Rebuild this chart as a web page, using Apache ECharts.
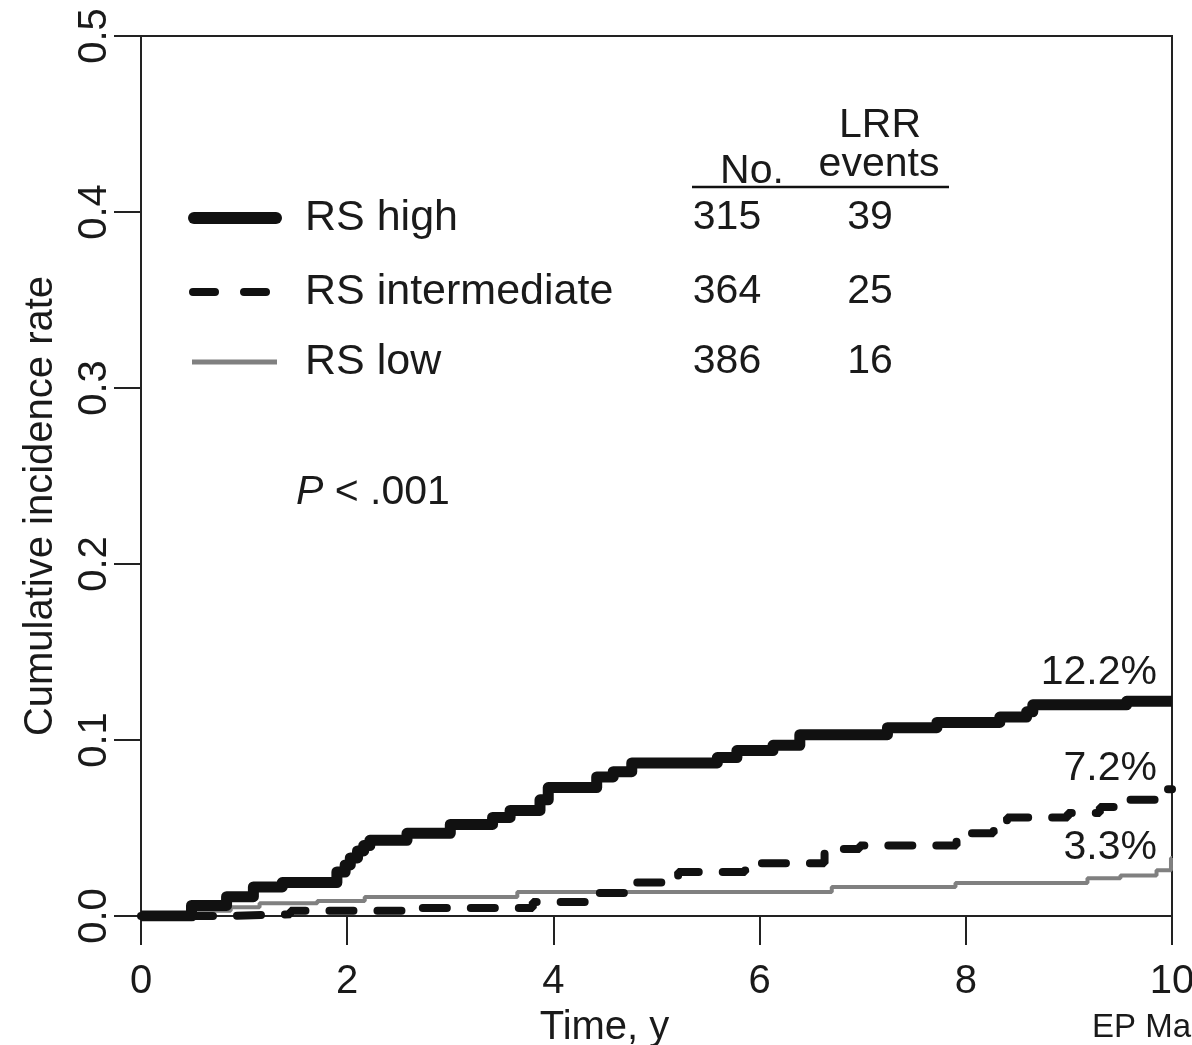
<!DOCTYPE html>
<html>
<head>
<meta charset="utf-8">
<script src="https://cdn.jsdelivr.net/npm/echarts@6/dist/echarts.min.js"></script>
<style>
html,body{margin:0;padding:0;background:#fff;}
#chart{width:1192px;height:1045px;}
</style>
</head>
<body>
<div id="chart"></div>
<script>
// ---- data ----
var xTicks = [0, 2, 4, 6, 8, 10];
var yTicks = [0.0, 0.1, 0.2, 0.3, 0.4, 0.5];

var highTime = [0, 0.49, 0.83, 1.09, 1.37, 1.90, 1.98, 2.03, 2.10, 2.16, 2.22, 2.58, 3.00, 3.41, 3.58, 3.87, 3.95, 4.42, 4.58, 4.76, 5.59, 5.78, 6.13, 6.39, 7.24, 7.72, 8.33, 8.59, 8.65, 9.56, 10];
var highRate = [0, 0.006, 0.011, 0.0165, 0.019, 0.025, 0.029, 0.033, 0.037, 0.040, 0.043, 0.047, 0.052, 0.056, 0.060, 0.066, 0.073, 0.079, 0.082, 0.087, 0.090, 0.094, 0.097, 0.103, 0.107, 0.110, 0.113, 0.116, 0.120, 0.122, 0.122];

var interTime = [0, 0.80, 1.45, 2.68, 3.80, 4.39, 4.77, 5.21, 5.86, 6.63, 6.97, 7.91, 8.27, 8.40, 8.99, 9.30, 9.53, 9.85, 10];
var interRate = [0, 0.001, 0.003, 0.0045, 0.008, 0.013, 0.019, 0.025, 0.030, 0.038, 0.040, 0.047, 0.051, 0.056, 0.0585, 0.062, 0.066, 0.072, 0.072];

var lowTime = [0, 0.55, 0.87, 1.15, 1.71, 2.17, 3.65, 6.70, 7.90, 9.18, 9.50, 9.85, 9.99, 10];
var lowRate = [0, 0.003, 0.005, 0.0073, 0.0085, 0.0108, 0.0136, 0.0165, 0.0187, 0.0215, 0.023, 0.026, 0.033, 0.033];

var groups = ["RS high", "RS intermediate", "RS low"];
var groupN = ["315", "364", "386"];
var groupEvents = ["39", "25", "16"];
var endLabels = ["12.2%", "7.2%", "3.3%"];
var pText = ".001";

function pairs(t, v) { return t.map(function (x, i) { return [x, v[i]]; }); }

var FONT = '"Liberation Sans", Arial, Helvetica, sans-serif';
var FS = 40;
var LFS = 43;
var TXT = '#1a1a1a';

var chart = echarts.init(document.getElementById('chart'), null, {renderer: 'canvas'});

var graphics = [];
// legend lines
graphics.push({type: 'line', shape: {x1: 194, y1: 218, x2: 276, y2: 218}, style: {stroke: '#111', lineWidth: 12, lineCap: 'round'}});
graphics.push({type: 'line', shape: {x1: 193, y1: 292, x2: 273, y2: 292}, style: {stroke: '#111', lineWidth: 8, lineCap: 'round', lineDash: [22, 29]}});
graphics.push({type: 'line', shape: {x1: 192, y1: 362, x2: 277, y2: 362}, style: {stroke: '#808080', lineWidth: 5}});
var rowY = [218, 292, 362];
groups.forEach(function (g, i) {
  graphics.push({type: 'text', x: 305, y: rowY[i], style: {text: g, font: LFS + 'px ' + FONT, fill: TXT, textVerticalAlign: 'middle', textAlign: 'left'}});
  graphics.push({type: 'text', x: 727, y: rowY[i], style: {text: groupN[i], font: '41px ' + FONT, fill: TXT, textVerticalAlign: 'middle', textAlign: 'center'}});
  graphics.push({type: 'text', x: 870, y: rowY[i], style: {text: groupEvents[i], font: '41px ' + FONT, fill: TXT, textVerticalAlign: 'middle', textAlign: 'center'}});
});
// table header
graphics.push({type: 'text', x: 752, y: 172, style: {text: 'No.', font: '41px ' + FONT, fill: TXT, textVerticalAlign: 'middle', textAlign: 'center'}});
graphics.push({type: 'text', x: 880, y: 126, style: {text: 'LRR', font: '41px ' + FONT, fill: TXT, textVerticalAlign: 'middle', textAlign: 'center'}});
graphics.push({type: 'text', x: 879, y: 165, style: {text: 'events', font: '41px ' + FONT, fill: TXT, textVerticalAlign: 'middle', textAlign: 'center'}});
graphics.push({type: 'line', shape: {x1: 692, y1: 187, x2: 949, y2: 187}, style: {stroke: '#111', lineWidth: 2.5}});
// P value
graphics.push({type: 'text', x: 296, y: 493, style: {
  text: '{i|P} < ' + pText,
  font: '41px ' + FONT, fill: TXT, textVerticalAlign: 'middle', textAlign: 'left',
  rich: {i: {fontStyle: 'italic', fontSize: 41, fontFamily: FONT, fill: TXT}}
}});
// end labels
var endY = [673, 769, 848];
endLabels.forEach(function (s, i) {
  graphics.push({type: 'text', x: 1157, y: endY[i], style: {text: s, font: '41px ' + FONT, fill: TXT, textVerticalAlign: 'middle', textAlign: 'right'}});
});
// footer credit (clipped)
graphics.push({type: 'text', x: 1092, y: 1028, style: {text: 'EP Mar', font: '33px ' + FONT, fill: TXT, textVerticalAlign: 'middle', textAlign: 'left'}});

var option = {
  backgroundColor: '#fff',
  animation: false,
  grid: {left: 141, right: 20, top: 36, bottom: 129, show: true, borderColor: '#222', borderWidth: 2, backgroundColor: 'transparent',
    containLabel: false, outerBoundsMode: 'none'},
  xAxis: {
    type: 'value', min: 0, max: 10, interval: 2,
    name: 'Time, y', nameLocation: 'middle', nameGap: 92,
    nameTextStyle: {fontSize: FS, fontFamily: FONT, color: TXT, padding: [0, 104, 0, 0]},
    axisLine: {show: true, onZero: false, lineStyle: {color: '#222', width: 2}},
    axisTick: {show: true, inside: false, length: 29, lineStyle: {color: '#222', width: 2}},
    axisLabel: {fontSize: FS, fontFamily: FONT, color: TXT, margin: 46,
      formatter: function (v) { return xTicks.indexOf(v) >= 0 ? String(v) : ''; }},
    splitLine: {show: false}
  },
  yAxis: {
    type: 'value', min: 0, max: 0.5, interval: 0.1,
    name: 'Cumulative incidence rate', nameLocation: 'middle', nameGap: 80,
    nameTextStyle: {fontSize: FS, fontFamily: FONT, color: TXT, padding: [0, 60, 0, 0]},
    axisLine: {show: true, onZero: false, lineStyle: {color: '#222', width: 2}},
    axisTick: {show: true, inside: false, length: 27, lineStyle: {color: '#222', width: 2}},
    axisLabel: {fontSize: FS, fontFamily: FONT, color: TXT, rotate: 90, margin: 26,
      formatter: function (v) {
        var k = yTicks.findIndex(function (t) { return Math.abs(t - v) < 1e-9; });
        return k >= 0 ? yTicks[k].toFixed(1) : '';
      }},
    splitLine: {show: false}
  },
  series: [
    {name: groups[1], type: 'line', step: 'end', showSymbol: false, data: pairs(interTime, interRate),
      lineStyle: {color: '#111', width: 8, type: [24, 24], cap: 'round'}, z: 3},
    {name: groups[2], type: 'line', step: 'end', showSymbol: false, data: pairs(lowTime, lowRate),
      lineStyle: {color: '#808080', width: 4}, z: 2},
    {name: groups[0], type: 'line', step: 'end', showSymbol: false, data: pairs(highTime, highRate),
      lineStyle: {color: '#111', width: 11, join: 'round', cap: 'butt'}, z: 4}
  ],
  graphic: graphics
};
chart.setOption(option);
</script>
</body>
</html>
